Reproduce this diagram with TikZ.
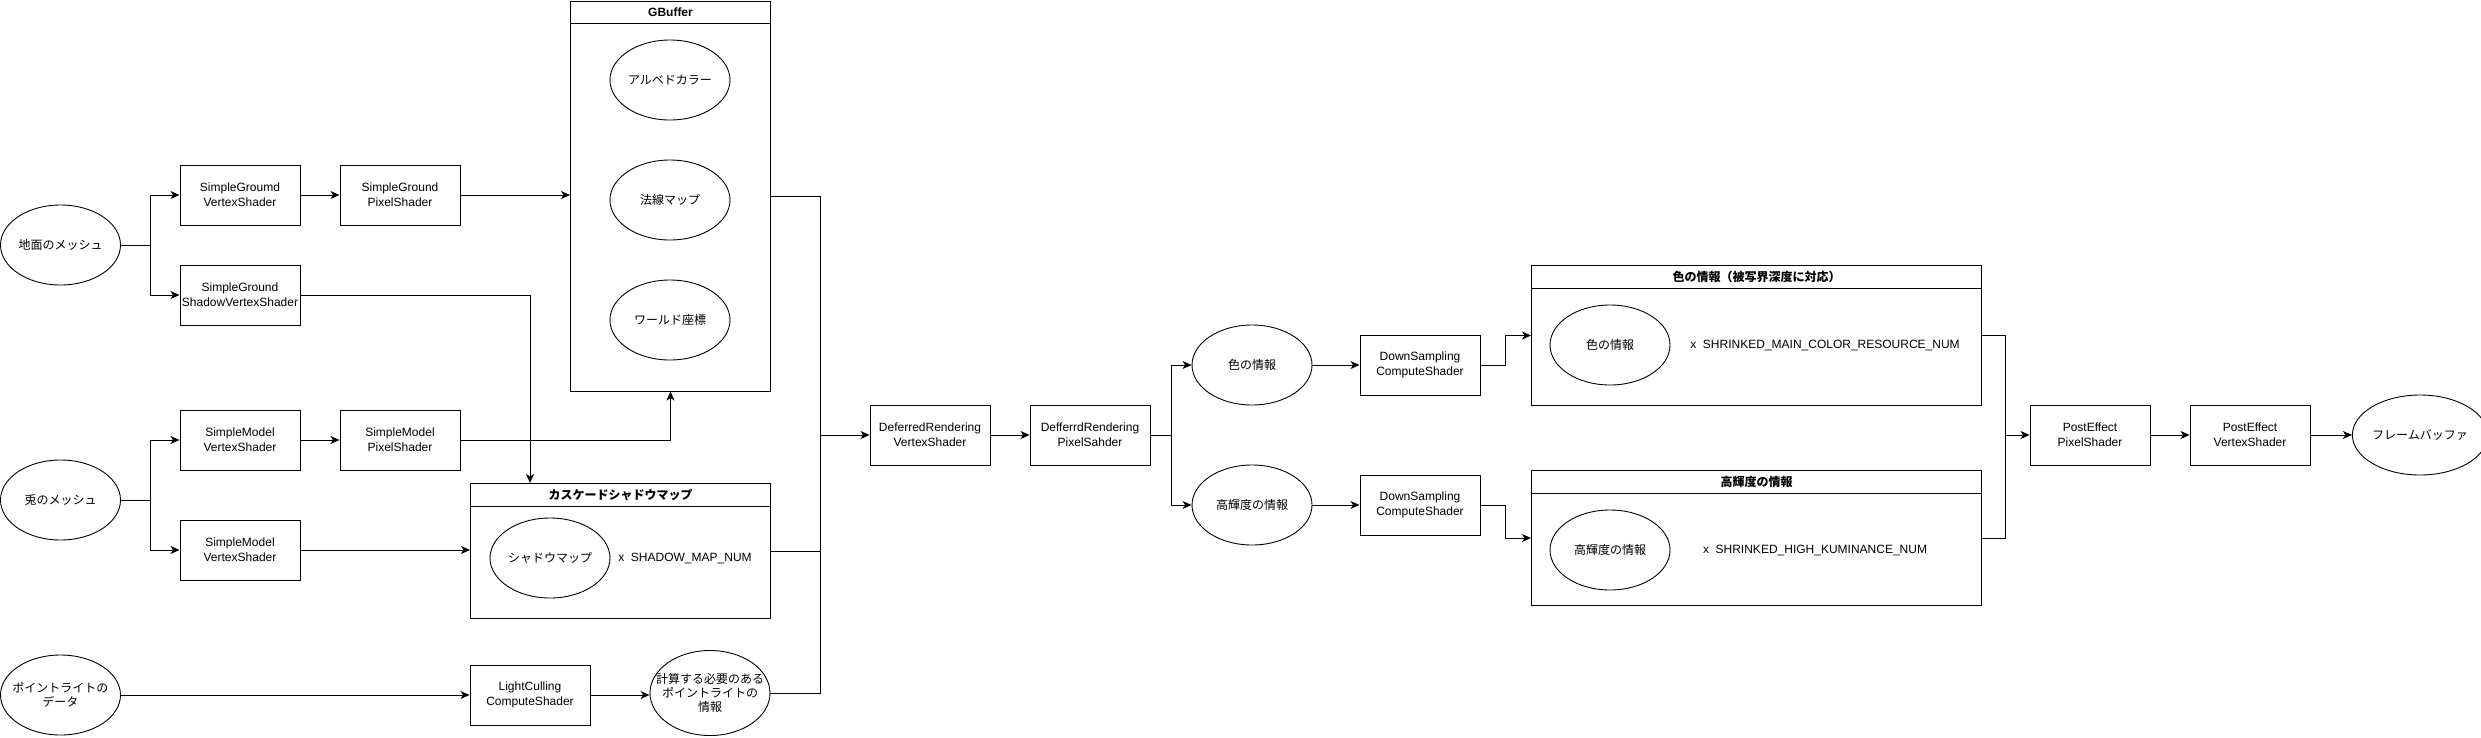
\documentclass[tikz,border=0pt]{standalone}
\usepackage{fontspec}
\setmainfont{Liberation Sans}
\newfontfamily\jp{Noto Sans CJK JP}
\usetikzlibrary{shapes.geometric,arrows.meta,calc}
\begin{document}
\begin{tikzpicture}[x=1pt,y=-1pt,
  every node/.style={font=\fontsize{12}{15}\selectfont},
  box/.style={draw,line width=1pt,minimum width=120,minimum height=60,align=center,inner sep=1pt},
  ell/.style={draw,ellipse,line width=0.9pt,minimum width=120,minimum height=80,align=center,inner sep=0pt,font=\jp\fontsize{12}{15}\selectfont},
  jptext/.style={align=center,inner sep=0pt,font=\jp\fontsize{12}{14}\selectfont},
  lane/.style={draw,line width=1pt,anchor=north west,inner sep=0pt},
  lanetitle/.style={font=\jp\bfseries\fontsize{12}{15}\selectfont},
  plain/.style={font=\fontsize{12}{15}\selectfont},
  conn/.style={line width=1pt},
  arr/.style={line width=1pt,-{Stealth[length=9pt,width=8pt,inset=2.5pt]}}
]
\useasboundingbox (0,0) rectangle (2481,737);

% ---- left inputs
\node[ell] (gmesh) at (60.5,245) {地面のメッシュ};
\node[ell] (mmesh) at (60.5,500) {兎のメッシュ};
\node[ell] (plight) at (60.5,695) {};
\node[jptext] (plightt) at (plight.center) {ポイントライトの\\データ};

\node[box] (sgvs) at (240,195) {SimpleGroumd\\VertexShader};
\node[box] (sgps) at (400,195) {SimpleGround\\PixelShader};
\node[box] (sgsvs) at (240,295) {SimpleGround\\ShadowVertexShader};
\node[box] (smvs1) at (240,440) {SimpleModel\\VertexShader};
\node[box] (smps) at (400,440) {SimpleModel\\PixelShader};
\node[box] (smvs2) at (240,550) {SimpleModel\\VertexShader};
\node[box] (lcull) at (530,695) {LightCulling\\ComputeShader};
\node[ell,minimum height=85] (plinfo) at (710,693) {};
\node[jptext] (plinfot) at (plinfo.center) {計算する必要のある\\ポイントライトの\\情報};

% ---- GBuffer
\node[lane,minimum width=200,minimum height=390] (gbuf) at (570,0.5) {};
\draw[line width=1pt] ([yshift=-23]gbuf.north west) -- ([yshift=-23]gbuf.north east);
\node[lanetitle] (gbuft) at ([yshift=-11.5]gbuf.north) {\bfseries\fontspec{Liberation Sans}GBuffer};
\node[ell] (albedo) at (670,80) {アルベドカラー};
\node[ell] (normal) at (670,200) {法線マップ};
\node[ell] (world) at (670,320) {ワールド座標};

% ---- Cascade shadow map
\node[lane,minimum width=300,minimum height=135] (casc) at (470,483) {};
\draw[line width=1pt] ([yshift=-23]casc.north west) -- ([yshift=-23]casc.north east);
\node[lanetitle] (casct) at ([yshift=-11.5]casc.north) {カスケードシャドウマップ};
\node[ell] (smap) at (550,558) {シャドウマップ};
\node[plain] (smapn) at (685,558) {x\ \ SHADOW\_MAP\_NUM};

% ---- deferred
\node[box] (drvs) at (930,435) {DeferredRendering\\VertexShader};
\node[box] (drps) at (1090,435) {DefferrdRendering\\PixelSahder};
\node[ell] (col) at (1252,365) {色の情報};
\node[ell] (hl) at (1252,505) {高輝度の情報};
\node[box] (ds1) at (1420,365) {DownSampling\\ComputeShader};
\node[box] (ds2) at (1420,505) {DownSampling\\ComputeShader};

% ---- color lane
\node[lane,minimum width=450,minimum height=140] (colbox) at (1531,265) {};
\draw[line width=1pt] ([yshift=-23]colbox.north west) -- ([yshift=-23]colbox.north east);
\node[lanetitle] (colboxt) at ([yshift=-11.5]colbox.north) {色の情報（被写界深度に対応）};
\node[ell] (colin) at (1610,345) {色の情報};
\node[plain] (coln) at (1825,345) {x\ \ SHRINKED\_MAIN\_COLOR\_RESOURCE\_NUM};

% ---- high luminance lane
\node[lane,minimum width=450,minimum height=135] (hlbox) at (1531,470) {};
\draw[line width=1pt] ([yshift=-23]hlbox.north west) -- ([yshift=-23]hlbox.north east);
\node[lanetitle] (hlboxt) at ([yshift=-11.5]hlbox.north) {高輝度の情報};
\node[ell] (hlin) at (1610,550) {高輝度の情報};
\node[plain] (hln) at (1815,550) {x\ \ SHRINKED\_HIGH\_KUMINANCE\_NUM};

% ---- post effect
\node[box] (peps) at (2090,435) {PostEffect\\PixelShader};
\node[box] (pevs) at (2250,435) {PostEffect\\VertexShader};
\node[ell] (fb) at (2420,435) {フレームバッファ};

% ---- connectors
\coordinate (b1) at (150,245);
\draw[conn] (gmesh.east) -- (b1);
\draw[arr] (b1) |- (sgvs.west);
\draw[arr] (b1) |- (sgsvs.west);
\draw[arr] (sgvs) -- (sgps);
\draw[arr] (sgps.east) -- (sgps.east -| gbuf.west);
\coordinate (sh) at (530,483);
\draw[arr] (sgsvs.east) -| (sh);

\coordinate (b2) at (150,500);
\draw[conn] (mmesh.east) -- (b2);
\draw[arr] (b2) |- (smvs1.west);
\draw[arr] (b2) |- (smvs2.west);
\draw[arr] (smvs1) -- (smps);
\draw[arr] (smps.east) -| (gbuf.south);
\draw[arr] (smvs2.east) -- (smvs2.east -| casc.west);

\draw[arr] (plight.east) -- (lcull.west);
\draw[arr] (lcull.east) -- (lcull.east -| plinfo.west);

\coordinate (m1) at (820,435);
\draw[conn] (gbuf.east) -| (m1);
\draw[conn] (casc.east) -| (m1);
\draw[conn] (plinfo.east) -| (m1);
\draw[arr] (m1) -- (drvs.west);
\draw[arr] (drvs) -- (drps);

\coordinate (b3) at (1171,435);
\draw[conn] (drps.east) -- (b3);
\draw[arr] (b3) |- (col.west);
\draw[arr] (b3) |- (hl.west);
\draw[arr] (col) -- (ds1);
\draw[arr] (hl) -- (ds2);
\draw[arr] (ds1.east) -- ++(25,0) |- (colbox.west);
\draw[arr] (ds2.east) -- ++(25,0) |- (hlbox.west);

\coordinate (m2) at (2005,435);
\draw[conn] (colbox.east) -| (m2);
\draw[conn] (hlbox.east) -| (m2);
\draw[arr] (m2) -- (peps.west);
\draw[arr] (peps) -- (pevs);
\draw[arr] (pevs) -- (fb);
\end{tikzpicture}
\end{document}
